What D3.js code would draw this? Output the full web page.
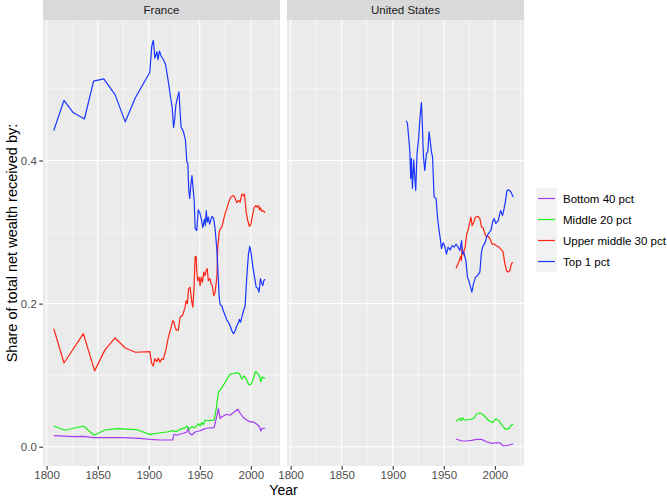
<!DOCTYPE html>
<html>
<head>
<meta charset="utf-8">
<script src="https://cdn.jsdelivr.net/npm/d3@7"></script>
<style>
  body { margin: 0; background: #fff; }
  svg { font-family: "Liberation Sans", Arial, sans-serif; display: block; }
</style>
</head>
<body>
<div id="chart"></div>
<script>
// 数据：[年份, 份额]
const franceBottom40 = [[1807,0.0154],[1826,0.014],[1836,0.0146],[1846.4,0.0126],[1875,0.0126],[1891.5,0.0118],[1901.3,0.0104],[1911,0.0094],[1923.5,0.0094],[1924.8,0.0174],[1927.5,0.016],[1930.7,0.0178],[1934,0.0188],[1937.3,0.0206],[1938.9,0.0267],[1939.8,0.019],[1942.2,0.0164],[1945.4,0.0206],[1949.6,0.022],[1953.5,0.0243],[1956.8,0.0258],[1960,0.0262],[1964,0.0267],[1966.7,0.043],[1968.2,0.0533],[1969.9,0.0392],[1971.6,0.042],[1976.5,0.0454],[1979.7,0.044],[1983,0.0477],[1987.3,0.0524],[1989.5,0.0468],[1992.8,0.0406],[1996.1,0.0374],[1999.3,0.0346],[2002.6,0.0346],[2005.9,0.0314],[2008.5,0.028],[2009.8,0.022],[2010.8,0.0252],[2014,0.0258]];
const franceMiddle20 = [[1807,0.029],[1818,0.023],[1836,0.029],[1846.5,0.016],[1857,0.0234],[1868.5,0.0253],[1888,0.024],[1901.3,0.017],[1908,0.0188],[1917.6,0.0206],[1924,0.0225],[1927,0.021],[1930.7,0.0243],[1935.6,0.0267],[1937.3,0.029],[1939.2,0.0243],[1942.2,0.028],[1945.4,0.0267],[1948.7,0.0323],[1950.3,0.029],[1952,0.0337],[1953.5,0.031],[1955.2,0.0374],[1958.4,0.0365],[1961.8,0.037],[1964,0.037],[1966,0.0524],[1968.2,0.076],[1971.6,0.0827],[1973.8,0.0874],[1976.5,0.0944],[1979.7,0.1015],[1983,0.1023],[1986.3,0.1033],[1988.8,0.1023],[1991.2,0.0944],[1993.5,0.099],[1995.5,0.095],[1997.7,0.0874],[1999.3,0.0865],[2001,0.0897],[2002.6,0.0967],[2004.6,0.1051],[2006.6,0.1023],[2008.5,0.099],[2009.8,0.0907],[2011.1,0.0977],[2012.4,0.0959],[2014,0.0953]];
const franceUpperMiddle30 = [[1807,0.165],[1817,0.117],[1836,0.158],[1847,0.106],[1857,0.135],[1867,0.152],[1877,0.138],[1887,0.132],[1901,0.133],[1903,0.116],[1904.5,0.113],[1906,0.123],[1908,0.119],[1909.4,0.124],[1911,0.118],[1912.7,0.123],[1914.3,0.122],[1916.6,0.134],[1919.2,0.153],[1921.6,0.165],[1923.5,0.176],[1924.5,0.175],[1925.8,0.167],[1927,0.163],[1929,0.163],[1930.7,0.181],[1933.3,0.184],[1935.6,0.195],[1936.6,0.204],[1937.9,0.2],[1939,0.221],[1940.5,0.223],[1942.2,0.202],[1943.2,0.195],[1944.4,0.223],[1945.4,0.265],[1946.4,0.266],[1947,0.246],[1948,0.232],[1949.3,0.237],[1950.3,0.225],[1951.3,0.237],[1952.6,0.23],[1953.9,0.244],[1955.2,0.239],[1956.2,0.246],[1957.2,0.249],[1958.4,0.232],[1960,0.235],[1961,0.228],[1962.3,0.225],[1963.7,0.211],[1965,0.216],[1966.7,0.237],[1967.6,0.279],[1969,0.3],[1970.3,0.305],[1971.6,0.307],[1973.1,0.316],[1974.8,0.326],[1976.5,0.333],[1978,0.34],[1979.7,0.347],[1981.4,0.35],[1983,0.351],[1984.6,0.347],[1986.3,0.341],[1987.9,0.344],[1989.5,0.342],[1991.2,0.353],[1992.8,0.351],[1993.7,0.353],[1994.4,0.344],[1995.4,0.328],[1997,0.316],[1998.6,0.308],[2000,0.311],[2001.6,0.323],[2003.2,0.334],[2004.9,0.337],[2006.2,0.335],[2007.5,0.337],[2008.5,0.331],[2009.4,0.334],[2010.8,0.329],[2012,0.33],[2014,0.327]];
const franceTop1 = [[1807,0.442],[1817,0.484],[1826,0.467],[1837,0.458],[1846,0.511],[1856,0.514],[1867,0.492],[1877,0.454],[1887,0.488],[1901,0.523],[1903,0.56],[1904.5,0.568],[1906,0.543],[1908,0.552],[1909,0.541],[1910.5,0.553],[1912,0.546],[1914,0.542],[1916.5,0.534],[1919,0.512],[1921.5,0.487],[1923,0.474],[1924.3,0.446],[1925.3,0.456],[1926.5,0.477],[1928.3,0.489],[1929.6,0.496],[1930.6,0.471],[1931.6,0.447],[1934,0.44],[1936,0.428],[1937.3,0.398],[1938.3,0.396],[1939.2,0.358],[1940.2,0.347],[1941.2,0.365],[1942.3,0.379],[1943.5,0.36],[1944.5,0.344],[1945.5,0.305],[1947,0.302],[1948.5,0.331],[1950,0.327],[1951.5,0.318],[1953,0.306],[1954.5,0.318],[1955.5,0.309],[1956.3,0.33],[1957.3,0.314],[1958.4,0.321],[1959.5,0.311],[1960.8,0.317],[1962,0.322],[1963.5,0.319],[1965,0.305],[1966.7,0.275],[1967.6,0.251],[1969,0.209],[1970,0.198],[1971.6,0.197],[1973,0.19],[1975,0.183],[1976.5,0.177],[1978,0.174],[1979.7,0.169],[1981.4,0.162],[1983,0.158],[1984.6,0.162],[1986.3,0.169],[1988,0.174],[1988.8,0.178],[1989.8,0.174],[1991.2,0.181],[1992.8,0.19],[1994.4,0.197],[1996,0.237],[1997.7,0.27],[1999,0.28],[2000.3,0.27],[2002,0.251],[2003.6,0.237],[2005.2,0.223],[2006.9,0.221],[2008,0.216],[2009.4,0.235],[2010.8,0.228],[2011.7,0.225],[2012.7,0.232],[2014,0.234]];

const usBottom40 = [[1962,0.0108],[1967.4,0.008],[1972.3,0.008],[1977,0.0088],[1982.1,0.0103],[1987,0.0103],[1991.9,0.007],[1996.8,0.0047],[2001.6,0.0056],[2005,0.0052],[2008.1,0.0014],[2011.5,0.0014],[2014.7,0.0028],[2018,0.0038]];
const usMiddle20 = [[1962,0.036],[1964,0.0375],[1965.7,0.0398],[1967.2,0.036],[1968.3,0.0406],[1969.6,0.038],[1971.6,0.037],[1974.4,0.0384],[1977.2,0.0384],[1979.5,0.04],[1982.1,0.0454],[1985.3,0.0472],[1988,0.0454],[1991.2,0.0406],[1994.4,0.036],[1997.7,0.0337],[2001,0.0392],[2004.2,0.036],[2007.5,0.029],[2010.8,0.0243],[2014,0.0257],[2016.4,0.0304],[2018,0.0314]];
const usUpperMiddle30 = [[1962,0.2495],[1964,0.2556],[1965.7,0.2626],[1966.6,0.266],[1967.2,0.26],[1968,0.279],[1969,0.268],[1969.9,0.274],[1971,0.279],[1972.5,0.298],[1973.5,0.301],[1975.2,0.312],[1976.5,0.321],[1977.8,0.309],[1979.1,0.313],[1981.1,0.321],[1983.6,0.322],[1985.3,0.319],[1986.9,0.307],[1988.5,0.306],[1990.9,0.295],[1993.4,0.294],[1995.1,0.291],[1997.4,0.283],[1999.5,0.283],[2001.6,0.281],[2003.9,0.279],[2006.6,0.275],[2008.1,0.272],[2009.8,0.256],[2011.5,0.246],[2013,0.244],[2014.7,0.246],[2016.4,0.2565],[2018,0.2575]];
const usTop1 = [[1913,0.4555],[1914.4,0.452],[1916.7,0.414],[1917.6,0.375],[1918.3,0.403],[1919.3,0.361],[1920.6,0.401],[1921.6,0.377],[1922.5,0.358],[1923.8,0.41],[1925.5,0.433],[1926.5,0.4565],[1928.1,0.481],[1929,0.45],[1930.1,0.405],[1931.4,0.386],[1933,0.41],[1934.3,0.412],[1935.6,0.44],[1936.6,0.4285],[1937.9,0.412],[1939,0.405],[1940.5,0.349],[1942.5,0.347],[1943.8,0.321],[1945.4,0.302],[1946.8,0.288],[1947.7,0.277],[1949.4,0.285],[1951,0.28],[1952.6,0.269],[1954.2,0.279],[1956.2,0.275],[1958.1,0.281],[1960.1,0.279],[1962.1,0.283],[1964,0.279],[1965.7,0.274],[1967.4,0.288],[1968.3,0.27],[1969.6,0.272],[1971.6,0.26],[1973.2,0.237],[1974.5,0.232],[1976.2,0.223],[1977.5,0.216],[1979.1,0.228],[1981.1,0.237],[1983,0.239],[1985.3,0.244],[1986.9,0.272],[1988.5,0.281],[1990.2,0.284],[1991.9,0.293],[1993.8,0.298],[1996.1,0.302],[1997.8,0.314],[1999.3,0.319],[2001,0.312],[2003.3,0.316],[2005.6,0.33],[2007.5,0.323],[2009.1,0.333],[2010.5,0.344],[2011.8,0.358],[2013.7,0.359],[2015.7,0.356],[2018,0.349]];

const countries = ["France", "United States"];
const groups = ["Bottom 40 pct", "Middle 20 pct", "Upper middle 30 pct", "Top 1 pct"];
const groupColors = ["#A43CF2", "#1AF01A", "#FF2414", "#1A36FF"];
const xTicks = [1800, 1850, 1900, 1950, 2000];
const xMinorTicks = [1825, 1875, 1925, 1975, 2025];
const yTicks = [0, 0.2, 0.4];
const yMinorTicks = [0.1, 0.3, 0.5];

const seriesByCountry = {
  "France": [franceBottom40, franceMiddle20, franceUpperMiddle30, franceTop1],
  "United States": [usBottom40, usMiddle20, usUpperMiddle30, usTop1]
};

// 布局常量
const CHART_CONFIG = {
  width: 667,
  height: 500,
  panelLeft: 43,
  panelWidth: 237,
  panelGap: 7,
  stripTop: 0,
  stripHeight: 20,
  panelBottom: 466,
  lineWidth: 1.2,
  legend: { x: 536, y: 188, key: 21 }
};

const svg = d3.select("#chart").append("svg")
  .attr("width", CHART_CONFIG.width)
  .attr("height", CHART_CONFIG.height);

// ggplot 风格的 5% 扩展
function expand([a, b]) {
  const pad = (b - a) * 0.05;
  return [a - pad, b + pad];
}

const allPoints = Object.values(seriesByCountry).flat(2);
const xDomain = expand(d3.extent(allPoints, d => d[0]));
const yDomain = expand(d3.extent(allPoints, d => d[1]));

const panelTop = CHART_CONFIG.stripTop + CHART_CONFIG.stripHeight;

const y = d3.scaleLinear()
  .domain(yDomain)
  .range([CHART_CONFIG.panelBottom, panelTop]);

countries.forEach((country, ci) => {
  const left = CHART_CONFIG.panelLeft + ci * (CHART_CONFIG.panelWidth + CHART_CONFIG.panelGap);
  const right = left + CHART_CONFIG.panelWidth;

  const x = d3.scaleLinear().domain(xDomain).range([left, right]);

  // 面板背景
  svg.append("rect")
    .attr("x", left).attr("y", panelTop)
    .attr("width", CHART_CONFIG.panelWidth)
    .attr("height", CHART_CONFIG.panelBottom - panelTop)
    .attr("fill", "#EBEBEB");

  // 分面标题条
  svg.append("rect")
    .attr("x", left).attr("y", CHART_CONFIG.stripTop)
    .attr("width", CHART_CONFIG.panelWidth)
    .attr("height", CHART_CONFIG.stripHeight)
    .attr("fill", "#D9D9D9");
  svg.append("text")
    .attr("x", (left + right) / 2)
    .attr("y", CHART_CONFIG.stripTop + CHART_CONFIG.stripHeight / 2)
    .attr("dy", "0.35em")
    .attr("text-anchor", "middle")
    .style("font-size", "11.5px")
    .style("fill", "#1A1A1A")
    .text(country);

  // 网格线
  const grid = svg.append("g");
  grid.selectAll(".ymin").data(yMinorTicks).join("line")
    .attr("x1", left).attr("x2", right)
    .attr("y1", d => y(d)).attr("y2", d => y(d))
    .attr("stroke", "#fff").attr("stroke-width", 0.55);
  grid.selectAll(".xmin").data(xMinorTicks).join("line")
    .attr("y1", panelTop).attr("y2", CHART_CONFIG.panelBottom)
    .attr("x1", d => x(d)).attr("x2", d => x(d))
    .attr("stroke", "#fff").attr("stroke-width", 0.55);
  grid.selectAll(".ymaj").data(yTicks).join("line")
    .attr("x1", left).attr("x2", right)
    .attr("y1", d => y(d)).attr("y2", d => y(d))
    .attr("stroke", "#fff").attr("stroke-width", 1.1);
  grid.selectAll(".xmaj").data(xTicks).join("line")
    .attr("y1", panelTop).attr("y2", CHART_CONFIG.panelBottom)
    .attr("x1", d => x(d)).attr("x2", d => x(d))
    .attr("stroke", "#fff").attr("stroke-width", 1.1);

  // 折线
  const line = d3.line().x(d => x(d[0])).y(d => y(d[1]));
  seriesByCountry[country].forEach((series, gi) => {
    svg.append("path")
      .datum(series)
      .attr("d", line)
      .attr("fill", "none")
      .attr("stroke", groupColors[gi])
      .attr("stroke-width", CHART_CONFIG.lineWidth)
      .attr("stroke-linejoin", "round");
  });

  // x 轴
  svg.append("g")
    .attr("transform", `translate(0,${CHART_CONFIG.panelBottom})`)
    .call(d3.axisBottom(x).tickValues(xTicks).tickFormat(d3.format("d")).tickSize(3.7).tickPadding(1.5))
    .call(g => g.select(".domain").remove())
    .call(g => g.selectAll(".tick line").attr("stroke", "#333").attr("stroke-width", 1.1))
    .call(g => g.selectAll(".tick text")
      .style("font-size", "11.5px")
      .style("font-family", "Liberation Sans, Arial, sans-serif")
      .attr("fill", "#4D4D4D"));

  // y 轴（仅左侧面板）
  if (ci === 0) {
    svg.append("g")
      .attr("transform", `translate(${left},0)`)
      .call(d3.axisLeft(y).tickValues(yTicks).tickFormat(d3.format(".1f")).tickSize(3.7).tickPadding(2.5))
      .call(g => g.select(".domain").remove())
      .call(g => g.selectAll(".tick line").attr("stroke", "#333").attr("stroke-width", 1.1))
      .call(g => g.selectAll(".tick text")
        .style("font-size", "11.5px")
        .style("font-family", "Liberation Sans, Arial, sans-serif")
        .attr("fill", "#4D4D4D"));
  }
});

// 坐标轴标题
const plotLeft = CHART_CONFIG.panelLeft;
const plotRight = CHART_CONFIG.panelLeft + 2 * CHART_CONFIG.panelWidth + CHART_CONFIG.panelGap;
svg.append("text")
  .attr("x", (plotLeft + plotRight) / 2)
  .attr("y", 495)
  .attr("text-anchor", "middle")
  .style("font-size", "14px")
  .style("fill", "#000")
  .text("Year");

svg.append("text")
  .attr("transform", `translate(17,${(panelTop + CHART_CONFIG.panelBottom) / 2}) rotate(-90)`)
  .attr("text-anchor", "middle")
  .style("font-size", "14.5px")
  .style("fill", "#000")
  .text("Share of total net wealth received by:");

// 图例
const lg = CHART_CONFIG.legend;
const legend = svg.append("g").attr("transform", `translate(${lg.x},${lg.y})`);
legend.append("rect")
  .attr("width", lg.key).attr("height", lg.key * groups.length)
  .attr("fill", "#F2F2F2");
groups.forEach((name, i) => {
  const cy = i * lg.key + lg.key / 2;
  legend.append("line")
    .attr("x1", 2).attr("x2", lg.key - 2)
    .attr("y1", cy).attr("y2", cy)
    .attr("stroke", groupColors[i])
    .attr("stroke-width", CHART_CONFIG.lineWidth);
  legend.append("text")
    .attr("x", lg.key + 6)
    .attr("y", cy)
    .attr("dy", "0.35em")
    .style("font-size", "11.5px")
    .style("fill", "#000")
    .text(name);
});
</script>
</body>
</html>
